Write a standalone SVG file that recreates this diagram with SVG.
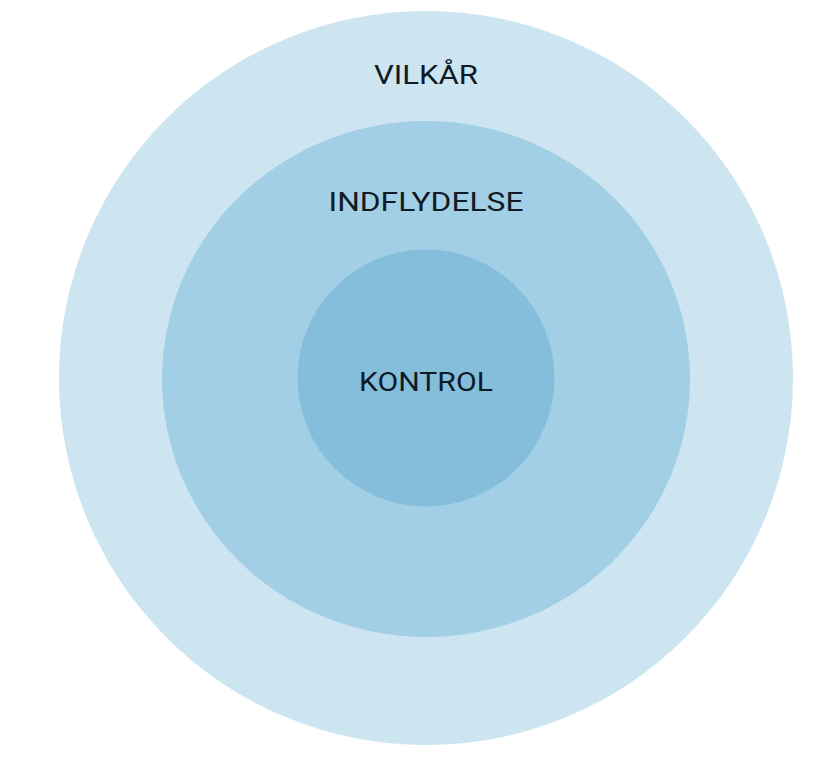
<svg xmlns="http://www.w3.org/2000/svg" width="824" height="757" viewBox="0 0 824 757">
<style>
text{font-family:Roboto,"Liberation Sans",sans-serif;font-size:26px;fill:#0f1a24;text-anchor:middle}
</style>
<rect width="824" height="757" fill="#ffffff"/>
<g id="vilkar">
<circle cx="426" cy="378" r="367" fill="#cce5f0"/>
<text x="426" y="84" textLength="104" lengthAdjust="spacingAndGlyphs">VILKÅR</text>
</g>
<g id="indflydelse">
<ellipse cx="426" cy="379" rx="264" ry="258" fill="#a2cfe5"/>
<text x="426" y="211" textLength="195" lengthAdjust="spacingAndGlyphs">INDFLYDELSE</text>
</g>
<g id="kontrol">
<circle cx="426" cy="378" r="128.5" fill="#84bedb"/>
<text x="426" y="391" textLength="134" lengthAdjust="spacingAndGlyphs">KONTROL</text>
</g>
<g id="connectors"/>
</svg>
